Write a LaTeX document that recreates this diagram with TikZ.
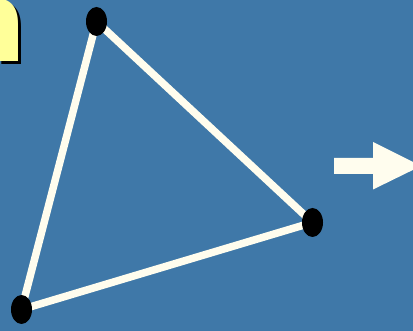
\documentclass[tikz,border=0pt]{standalone}
\usepackage{fontspec}
\newfontfamily\letterfont{DejaVu Sans}
\usetikzlibrary{shapes.geometric}
\definecolor{bgblue}{HTML}{3F78A8}
\definecolor{cream}{HTML}{FFFDEE}
\definecolor{lightyellow}{HTML}{FFFF99}
\tikzset{
  vertex/.style={ellipse, fill=black, inner sep=0pt, minimum width=21pt, minimum height=29pt},
  edge/.style={draw=cream, line width=7.5pt},
  bigletter/.style={inner sep=0pt, anchor=base east, font=\letterfont\fontsize{112}{112}\selectfont\bfseries}
}
\begin{document}
\begin{tikzpicture}[x=1pt,y=-1pt]
\useasboundingbox (0,0) rectangle (413,331);
\clip (0,0) rectangle (413,331);
\fill[bgblue] (0,0) rectangle (413,331);
% letter with shadow
\node[bigletter, text=black] (nshadow) at (30,65) {n};
\node[bigletter, text=lightyellow] (nletter) at (27,62) {n};
% triangle
\coordinate (pa) at (96.5,21.5);
\coordinate (pb) at (21.5,309.5);
\coordinate (pc) at (312.5,222.5);
\draw[edge] (pa) -- (pb);
\draw[edge] (pb) -- (pc);
\draw[edge] (pc) -- (pa);
\node[vertex] (va) at (pa) {};
\node[vertex] (vb) at (pb) {};
\node[vertex] (vc) at (pc) {};
% arrow
\fill[cream] (334,158) -- (373,158) -- (373,142) -- (421,166) -- (373,189.5) -- (373,174) -- (334,174) -- cycle;
\end{tikzpicture}
\end{document}
